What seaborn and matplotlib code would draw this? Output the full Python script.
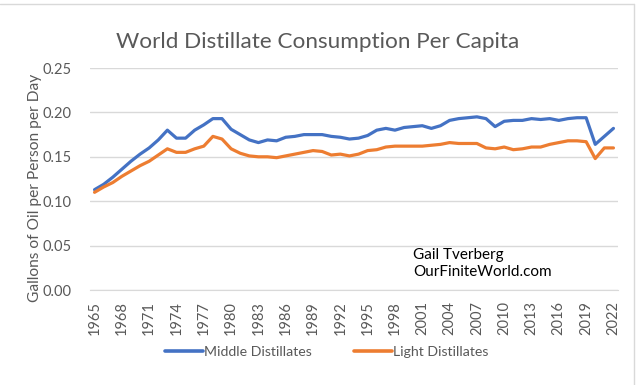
import numpy as np
import pandas as pd
import seaborn as sns
import matplotlib.pyplot as plt
from matplotlib.lines import Line2D

years = list(range(1965, 2023))

middle = [0.113, 0.119, 0.127, 0.136, 0.145, 0.153, 0.160, 0.169, 0.180, 0.171,
          0.171, 0.180, 0.186, 0.193, 0.193, 0.181, 0.175, 0.169, 0.166, 0.169,
          0.168, 0.172, 0.173, 0.175, 0.175, 0.175, 0.173, 0.172, 0.170, 0.171,
          0.174, 0.180, 0.182, 0.180, 0.183, 0.184, 0.185, 0.182, 0.185, 0.191,
          0.193, 0.194, 0.195, 0.193, 0.184, 0.190, 0.191, 0.191, 0.193, 0.192,
          0.193, 0.191, 0.193, 0.194, 0.194, 0.164, 0.173, 0.182]

light = [0.110, 0.116, 0.121, 0.128, 0.134, 0.140, 0.145, 0.152, 0.159, 0.155,
         0.155, 0.159, 0.162, 0.173, 0.170, 0.159, 0.154, 0.151, 0.150, 0.150,
         0.149, 0.151, 0.153, 0.155, 0.157, 0.156, 0.152, 0.153, 0.151, 0.153,
         0.157, 0.158, 0.161, 0.162, 0.162, 0.162, 0.162, 0.163, 0.164, 0.166,
         0.165, 0.165, 0.165, 0.160, 0.159, 0.161, 0.158, 0.159, 0.161, 0.161,
         0.164, 0.166, 0.168, 0.168, 0.167, 0.148, 0.160, 0.160]

series_names = ['Middle Distillates', 'Light Distillates']
colors = ['#4472C4', '#ED7D31']

df = pd.DataFrame({
    'year': years * 2,
    'value': middle + light,
    'series': [series_names[0]] * len(years) + [series_names[1]] * len(years),
})

sns.set_style('white')
plt.rcParams['font.family'] = ['Lato', 'DejaVu Sans']
grey = '#595959'

fig = plt.figure(figsize=(6.4, 3.85), dpi=100)
ax = fig.add_axes([90/640, 1 - 290/385, (618 - 90)/640, (290 - 68)/385])

sns.lineplot(data=df, x='year', y='value', hue='series', palette=colors,
             linewidth=2.3, ax=ax, legend=False)

ax.set_xlim(1964.5, 2022.5)
ax.set_ylim(0, 0.25)
ax.set_yticks(np.arange(0, 0.26, 0.05))
ax.set_yticklabels(['%.2f' % v for v in np.arange(0, 0.26, 0.05)])
ax.set_xticks(years[::3])
ax.set_xticklabels([str(y) for y in years[::3]], rotation=90)
ax.tick_params(axis='both', length=0, labelsize=10.5, colors=grey)
ax.tick_params(axis='y', pad=13)
ax.tick_params(axis='x', pad=8)
ax.grid(axis='y', color='#d9d9d9', linewidth=1)
ax.set_axisbelow(True)
for s in ['top', 'right', 'left']:
    ax.spines[s].set_visible(False)
ax.spines['bottom'].set_color('#d9d9d9')
ax.set_xlabel('')
ax.set_ylabel('')

fig.text(35/640, 1 - 188/385, 'Gallons of Oil per Person per Day', rotation=90,
         ha='center', va='center', fontsize=11.2, color=grey)

fig.text(0.497, 1 - 42/385, 'World Distillate Consumption Per Capita',
         ha='center', va='center', fontsize=16.2, color=grey)

ax.text(2000.0, 0.0395, 'Gail Tverberg', fontsize=11, color='black', va='center')
ax.text(2000.0, 0.0205, 'OurFiniteWorld.com', fontsize=11, color='black', va='center')

handles = [Line2D([0], [0], color=c, linewidth=2.6) for c in colors]
fig.legend(handles, series_names, loc='center', bbox_to_anchor=(0.51, 1 - 352/385),
           ncol=2, frameon=False, fontsize=10.2, labelcolor=grey,
           handlelength=2.7, handletextpad=0.05, columnspacing=3.0)

# chart border
fig.add_artist(Line2D([0, 634/640], [1 - 4/385, 1 - 4/385], color='#d9d9d9', linewidth=1))
fig.add_artist(Line2D([634/640, 634/640], [0, 1 - 4/385], color='#d9d9d9', linewidth=1))

fig.savefig('out.png', dpi=100)
